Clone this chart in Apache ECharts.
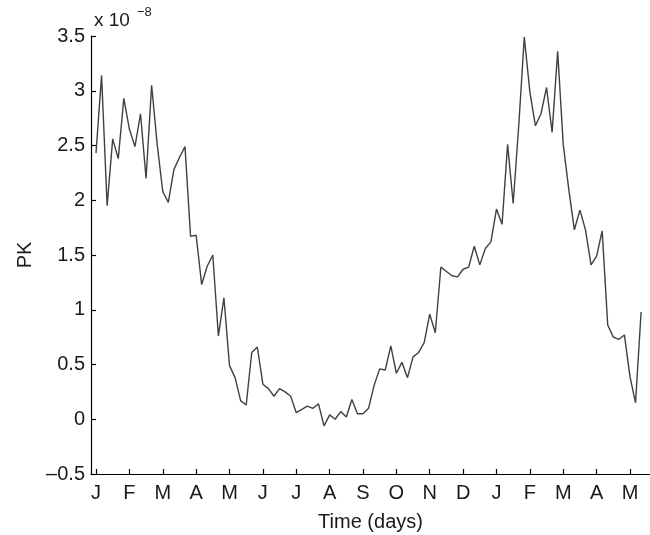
<!DOCTYPE html>
<html>
<head>
<meta charset="utf-8">
<script src="https://cdn.jsdelivr.net/npm/echarts@6/dist/echarts.min.js"></script>
<style>
  html, body { margin: 0; padding: 0; background: #fff; }
  #chart { width: 650px; height: 535px; }
</style>
</head>
<body>
<div id="chart"></div>
<script>
// PK values (units of 1e-8), one sample every ~5 days starting at January
const pkValues = [
  2.43, 3.14, 1.95, 2.56, 2.38, 2.93, 2.65, 2.49, 2.79, 2.20,
  3.05, 2.51, 2.08, 1.98, 2.28, 2.39, 2.49, 1.67, 1.68, 1.23,
  1.40, 1.50, 0.76, 1.11, 0.49, 0.38, 0.17, 0.13, 0.61, 0.66,
  0.32, 0.28, 0.21, 0.28, 0.25, 0.21, 0.06, 0.09, 0.12, 0.10,
  0.14, -0.06, 0.04, 0.00, 0.07, 0.02, 0.18, 0.05, 0.05, 0.10,
  0.31, 0.46, 0.45, 0.67, 0.42, 0.52, 0.38, 0.57, 0.61, 0.70,
  0.96, 0.79, 1.39, 1.35, 1.31, 1.30, 1.37, 1.39, 1.58, 1.41,
  1.56, 1.62, 1.92, 1.78, 2.51, 1.97, 2.68, 3.49, 2.99, 2.68,
  2.79, 3.03, 2.62, 3.36, 2.51, 2.10, 1.73, 1.91, 1.73, 1.41,
  1.49, 1.72, 0.86, 0.75, 0.73, 0.77, 0.39, 0.15, 0.98
];

// month tick labels and the sample index where each month starts
const monthLabels = ['J', 'F', 'M', 'A', 'M', 'J', 'J', 'A', 'S', 'O', 'N', 'D', 'J', 'F', 'M', 'A', 'M'];
const monthTicks = [0, 6, 12, 18, 24, 30, 36, 42, 48, 54, 60, 66, 72, 78, 84, 90, 96];

const FONT = 'Liberation Sans, Arial, Helvetica, sans-serif';
const TEXT_COLOR = '#1a1a1a';

const chart = echarts.init(document.getElementById('chart'));

const option = {
  animation: false,
  backgroundColor: '#fff',
  grid: { left: 91, right: 0, top: 36, bottom: 61, outerBoundsMode: 'none', containLabel: false },
  xAxis: {
    type: 'value',
    min: -0.9,
    max: 99.6,
    name: 'Time (days)',
    nameLocation: 'middle',
    nameGap: 38,
    nameTextStyle: { fontFamily: FONT, fontSize: 20, color: TEXT_COLOR },
    splitLine: { show: false },
    axisLine: { onZero: false, lineStyle: { color: '#000', width: 1.2 } },
    axisTick: {
      inside: true,
      length: 5,
      customValues: monthTicks,
      lineStyle: { color: '#000', width: 1.2 }
    },
    axisLabel: {
      customValues: monthTicks,
      margin: 9,
      fontFamily: FONT,
      fontSize: 20,
      color: TEXT_COLOR,
      formatter: v => monthLabels[monthTicks.indexOf(v)] || ''
    }
  },
  yAxis: {
    type: 'value',
    min: -0.5,
    max: 3.5,
    interval: 0.5,
    name: 'PK',
    nameLocation: 'middle',
    nameRotate: 90,
    nameGap: 56,
    nameTextStyle: { fontFamily: FONT, fontSize: 20, color: TEXT_COLOR },
    splitLine: { show: false },
    axisLine: { show: true, onZero: false, lineStyle: { color: '#000', width: 1.2 } },
    axisTick: { show: true, inside: true, length: 5, lineStyle: { color: '#000', width: 1.2 } },
    axisLabel: {
      margin: 6,
      fontFamily: FONT,
      fontSize: 20,
      color: TEXT_COLOR,
      formatter: v => String(v).replace('-', '\u2013')
    }
  },
  graphic: [
    {
      type: 'text',
      left: 94,
      top: 11,
      style: { text: 'x 10', font: '19px ' + FONT, fill: TEXT_COLOR }
    },
    {
      type: 'text',
      left: 137,
      top: 6,
      style: { text: '\u22128', font: '13px ' + FONT, fill: TEXT_COLOR }
    }
  ],
  series: [
    {
      type: 'line',
      data: pkValues.map((v, i) => [i, v]),
      showSymbol: false,
      lineStyle: { color: '#404040', width: 1.4 },
      z: 1
    }
  ]
};

chart.setOption(option);
</script>
</body>
</html>
